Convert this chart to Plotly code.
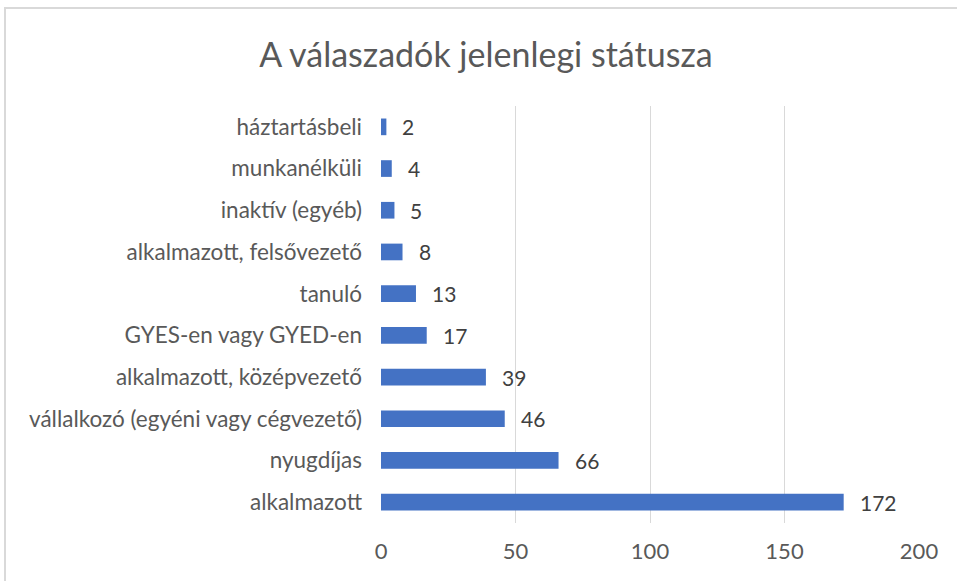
import plotly.graph_objects as go

# Response categories, listed top to bottom
categories = [
    "háztartásbeli",
    "munkanélküli",
    "inaktív (egyéb)",
    "alkalmazott, felsővezető",
    "tanuló",
    "GYES-en vagy GYED-en",
    "alkalmazott, középvezető",
    "vállalkozó (egyéni vagy cégvezető)",
    "nyugdíjas",
    "alkalmazott",
]
counts = [2, 4, 5, 8, 13, 17, 39, 46, 66, 172]
x_ticks = [0, 50, 100, 150, 200]

W, H = 957, 581
ML, MR, MT, MB = 381, 38, 106, 58
pw, ph = W - ML - MR, H - MT - MB

FONT = "Lato, Carlito, Calibri, 'Noto Sans', sans-serif"

fig = go.Figure()
fig.add_trace(go.Bar(
    x=counts,
    y=categories,
    orientation="h",
    width=0.4,
    marker=dict(color="#4472C4", line=dict(width=0)),
    hoverinfo="x+y",
))

# value labels beside each bar
for c, v in zip(categories, counts):
    fig.add_annotation(
        x=v, y=c, xref="x", yref="y",
        text=str(v), showarrow=False,
        xanchor="left", yanchor="middle", xshift=14,
        font=dict(family=FONT, size=21, color="#404040"),
    )

# chart-area frame (left and top edges visible)
fx0 = (5 - ML) / pw
fy1 = 1 + (MT - 8) / ph
fig.add_shape(
    type="rect", xref="paper", yref="paper",
    x0=fx0, x1=1 + (MR + 20) / pw, y0=-(MB + 20) / ph, y1=fy1,
    line=dict(color="#d9d9d9", width=2), fillcolor="rgba(0,0,0,0)",
    layer="below",
)

fig.update_layout(
    width=W, height=H,
    margin=dict(l=ML, r=MR, t=MT, b=MB, pad=0),
    paper_bgcolor="white",
    plot_bgcolor="white",
    showlegend=False,
    title=dict(
        text="A válaszadók jelenlegi státusza",
        x=486 / W, xanchor="center",
        y=1 - 55 / H, yanchor="middle",
        xref="container", yref="container",
        font=dict(family=FONT, size=34, color="#595959"),
    ),
    xaxis=dict(
        range=[0, 200],
        tickvals=x_ticks,
        showgrid=True, gridcolor="#d9d9d9", gridwidth=1,
        zeroline=False, showline=False,
        ticks="",
        ticklabelstandoff=13,
        tickfont=dict(family=FONT, size=22, color="#595959"),
        fixedrange=True,
    ),
    yaxis=dict(
        autorange="reversed",
        showgrid=False, zeroline=False, showline=False,
        ticks="",
        ticklabelstandoff=18,
        tickfont=dict(family=FONT, size=22.5, color="#595959"),
        fixedrange=True,
    ),
    bargap=0.6,
)

fig.write_html("out.html")
